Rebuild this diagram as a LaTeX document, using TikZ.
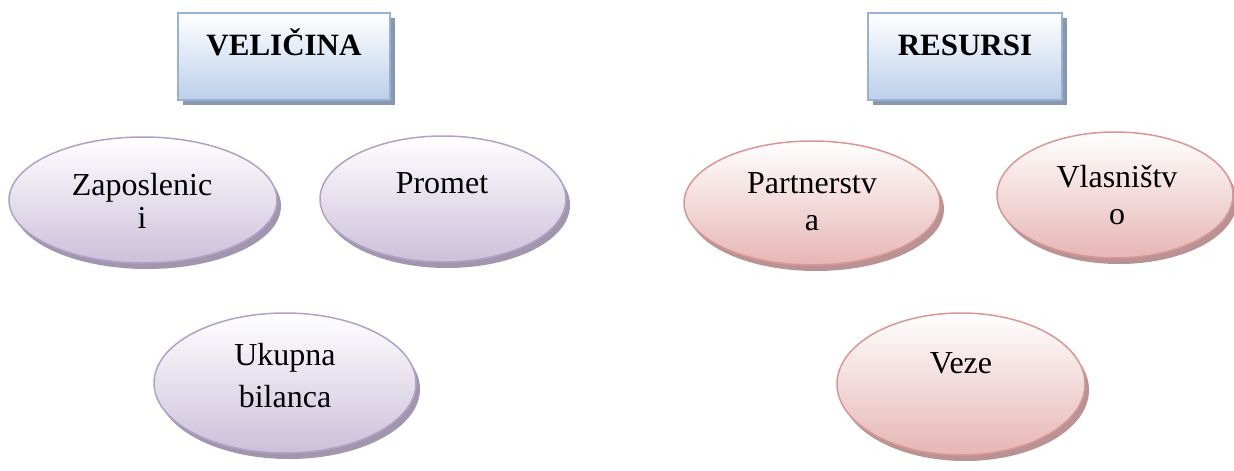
\documentclass[tikz,border=0pt]{standalone}
\usepackage{fontspec}
\setmainfont{Liberation Serif}
\usetikzlibrary{shapes.geometric,shadows}
\definecolor{boxline}{RGB}{149,179,215}
\definecolor{boxfill}{RGB}{188,207,234}
\definecolor{boxshadow}{RGB}{118,132,158}
\definecolor{lilacline}{RGB}{178,161,199}
\definecolor{lilacfill}{RGB}{204,192,218}
\definecolor{lilacshadow}{RGB}{138,124,152}
\definecolor{roseline}{RGB}{217,150,148}
\definecolor{rosefill}{RGB}{230,182,181}
\definecolor{roseshadow}{RGB}{168,120,120}

\begin{document}
\begin{tikzpicture}[x=1pt,y=-1pt,
                      titlebox/.style={rectangle,draw=boxline,line width=1.5pt,top color=white,bottom color=boxfill,
                        minimum height=87pt,inner sep=0pt,
                        drop shadow={shadow xshift=5pt,shadow yshift=-5pt,fill=boxshadow,opacity=0.85}},
                      lilac/.style={ellipse,draw=lilacline,line width=1.5pt,top color=white,bottom color=lilacfill,inner sep=0pt,
                        drop shadow={shadow xshift=4pt,shadow yshift=-6pt,fill=lilacshadow,opacity=0.8}},
                      rose/.style={ellipse,draw=roseline,line width=1.5pt,top color=white,bottom color=rosefill,inner sep=0pt,
                        drop shadow={shadow xshift=4pt,shadow yshift=-6pt,fill=roseshadow,opacity=0.8}},
                      titletext/.style={anchor=base,inner sep=0pt,font=\fontsize{31}{36}\selectfont\bfseries},
                      itemtext/.style={anchor=base,inner sep=0pt,align=center,font=\fontsize{32}{37}\selectfont}]
                      \useasboundingbox (0,0) rectangle (1234,471);
                      % titles
                      \node[titlebox,minimum width=212pt](velicina)at(284,56.5){};
                      \node[titletext](velicina-t)at(284,55){VELIČINA};
                      \node[titlebox,minimum width=194pt](resursi)at(965,56.5){};
                      \node[titletext](resursi-t)at(965,55){RESURSI};
                      % velicina (base = last line)
                      \node[lilac,minimum width=268pt,minimum height=126pt](zap)at(143,200){};
                      \node[itemtext,font=\fontsize{32}{33}\selectfont](zap-t)at(142,228){Zaposlenic\\i};
                      \node[lilac,minimum width=246pt,minimum height=126pt](promet)at(443,199){};
                      \node[itemtext](promet-t)at(442,193){Promet};
                      \node[lilac,minimum width=262pt,minimum height=140pt](bilanca)at(285,383){};
                      \node[itemtext,font=\fontsize{32}{42}\selectfont](bilanca-t)at(285,407){Ukupna\\bilanca};
                      % resursi
                      \node[rose,minimum width=256pt,minimum height=124pt](partner)at(812,203){};
                      \node[itemtext](partner-t)at(812,230){Partnerstv\\a};
                      \node[rose,minimum width=236pt,minimum height=126pt](vlasn)at(1115,195){};
                      \node[itemtext](vlasn-t)at(1117,224){Vlasništv\\o};
                      \node[rose,minimum width=248pt,minimum height=142pt](veze)at(961,384){};
                      \node[itemtext](veze-t)at(961,373){Veze};
                  \end{tikzpicture}
\end{document}
